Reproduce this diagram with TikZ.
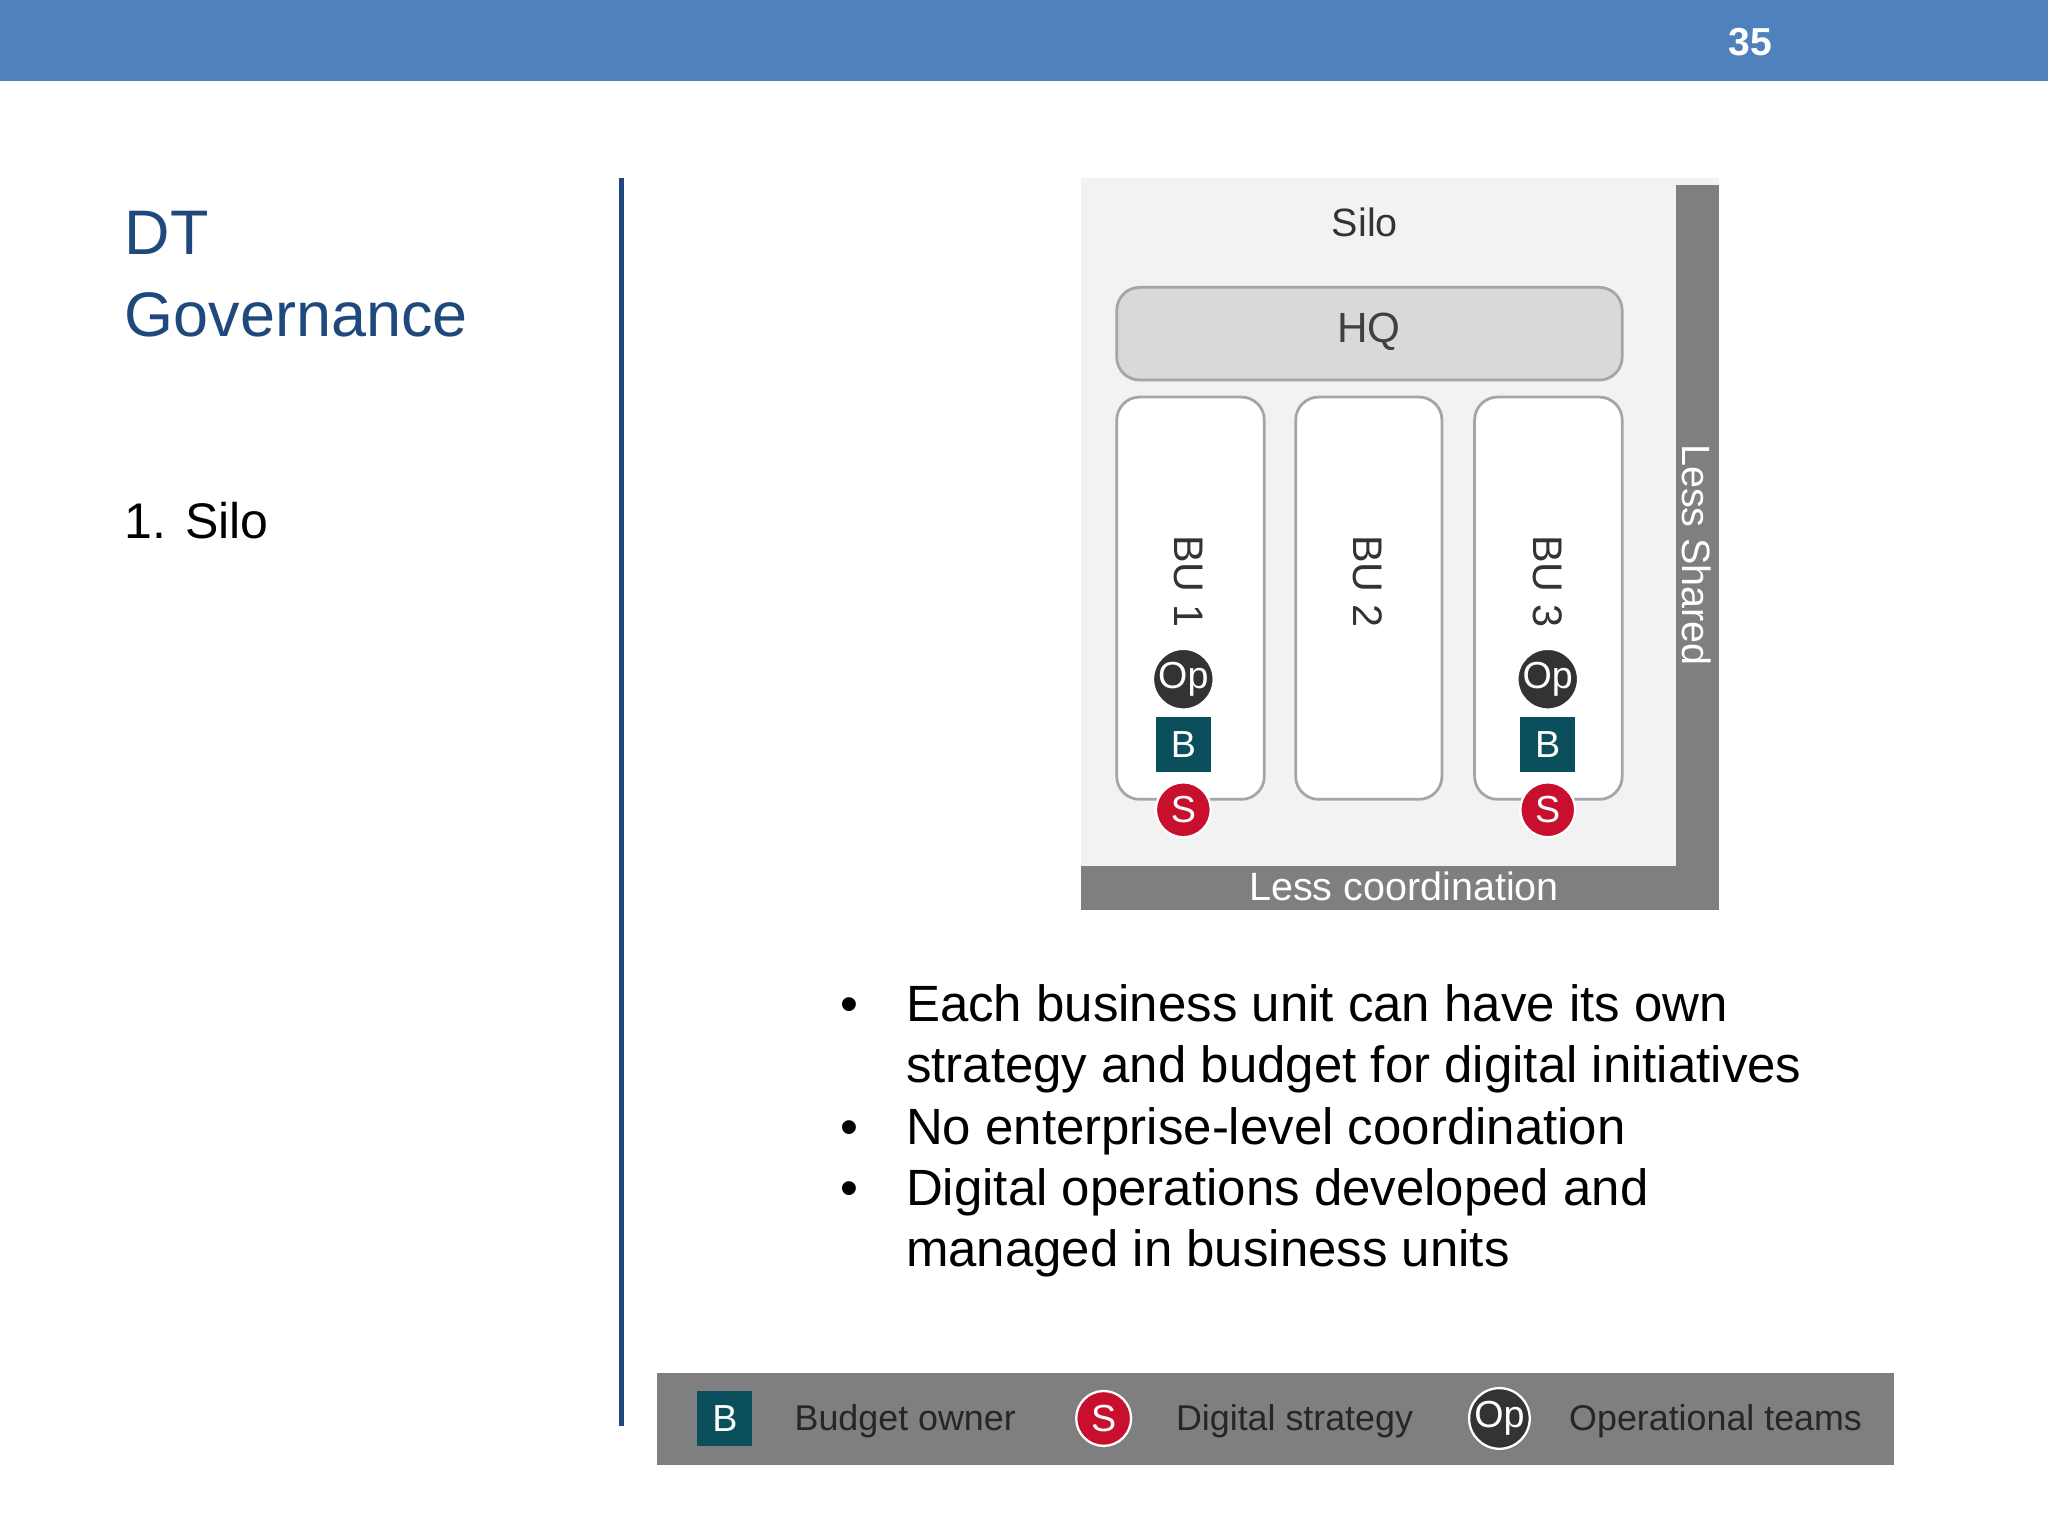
\documentclass[tikz,border=0pt]{standalone}
\usepackage{fontspec}
\setmainfont{Liberation Sans}
\definecolor{topblue}{HTML}{4F81BD}
\definecolor{titleblue}{HTML}{1F497D}
\definecolor{barg}{HTML}{7F7F7F}
\definecolor{bgg}{HTML}{F2F2F2}
\definecolor{hqg}{HTML}{D9D9D9}
\definecolor{teal}{HTML}{0B4F5C}
\definecolor{sred}{HTML}{C8102E}
\definecolor{opdark}{HTML}{333333}
\begin{document}
\begin{tikzpicture}[x=0.01cm,y=-0.01cm,
  dfont/.style={font=\fontsize{8.6}{10}\selectfont},
  bubox/.style={draw=barg!70,line width=0.6pt,fill=white,rounded corners=5pt},
  opc/.style={circle,fill=opdark,draw=white,line width=0.5pt,minimum size=0.42cm,inner sep=0,text=white,font=\fontsize{8.2}{9}\selectfont},
  bsq/.style={rectangle,fill=teal,minimum size=0.42cm,inner sep=0,text=white,font=\fontsize{8.2}{9}\selectfont},
  sc/.style={circle,fill=sred,draw=white,line width=0.5pt,minimum size=0.42cm,inner sep=0,text=white,font=\fontsize{8.2}{9}\selectfont},
  legt/.style={anchor=west,text=black!85,font=\fontsize{7.8}{9}\selectfont},
  bul/.style={anchor=base west,font=\fontsize{11.1}{13.4}\selectfont,text=black}]
\useasboundingbox (0,0) rectangle (1568,1176);
\fill[white] (0,0) rectangle (1568,1176);
\fill[topblue] (0,0) rectangle (1568,62);
\node[text=white,font=\bfseries\fontsize{8.5}{10}\selectfont] (pg) at (1340,32) {35};
\node[anchor=base west,text=titleblue,font=\fontsize{13.7}{16}\selectfont,inner sep=0] (t1) at (95,195) {DT};
\node[anchor=base west,text=titleblue,font=\fontsize{13.7}{16}\selectfont,inner sep=0] (t2) at (95,258) {Governance};
\node[anchor=base west,font=\fontsize{10.9}{13}\selectfont,inner sep=0] (s1) at (95,412) {1. Silo};
\draw[titleblue,line width=1.2pt] (476,136) -- (476,1092);
% diagram
\fill[bgg] (828,136) rectangle (1316,697);
\fill[barg] (1283,142) rectangle (1316,697);
\fill[barg] (828,663) rectangle (1316,697);
\node[dfont,text=white] (lc) at (1075,679) {Less coordination};
\node[dfont,text=white,rotate=-90] (ls) at (1299,425) {Less Shared};
\node[dfont,text=black!80] (silo) at (1045,170) {Silo};
\draw[draw=barg!70,line width=0.6pt,fill=hqg,rounded corners=5pt] (855,220) rectangle (1242,291);
\node[font=\fontsize{9.2}{10}\selectfont,text=black!75] (hq) at (1048,254) {HQ};
\draw[bubox] (855,304) rectangle (968,612);
\draw[bubox] (992,304) rectangle (1104,612);
\draw[bubox] (1129,304) rectangle (1242,612);
\node[text=black!80,rotate=-90,font=\fontsize{9}{10}\selectfont] (bu1) at (910,445) {BU 1};
\node[text=black!80,rotate=-90,font=\fontsize{9}{10}\selectfont] (bu2) at (1047,445) {BU 2};
\node[text=black!80,rotate=-90,font=\fontsize{9}{10}\selectfont] (bu3) at (1185,445) {BU 3};
\node[opc] (op1) at (906,520) {Op};
\node[bsq] (b1) at (906,570) {B};
\node[sc] (s1c) at (906,620) {S};
\node[opc] (op3) at (1185,520) {Op};
\node[bsq] (b3) at (1185,570) {B};
\node[sc] (s3c) at (1185,620) {S};
% bullets
\foreach \y/\t in {770/Each business unit can have its own, 817/strategy and budget for digital initiatives, 864/No enterprise-level coordination, 911/Digital operations developed and, 958/managed in business units}
  \node[bul,inner sep=0] at (693,\y+12) {\t};
\foreach \y in {770,864,911}
  \node[bul,inner sep=0] at (643,\y+12) {•};
% legend
\fill[barg] (503,1051) rectangle (1450,1122);
\node[bsq] (lb) at (555,1086) {B};
\node[legt] (lbt) at (596,1088) {Budget owner};
\node[sc] (ls2) at (845,1086) {S};
\node[legt] (lst) at (888,1088) {Digital strategy};
\node[opc] (lop) at (1148,1086) {Op};
\node[legt] (lopt) at (1189,1088) {Operational teams};
\end{tikzpicture}
\end{document}
